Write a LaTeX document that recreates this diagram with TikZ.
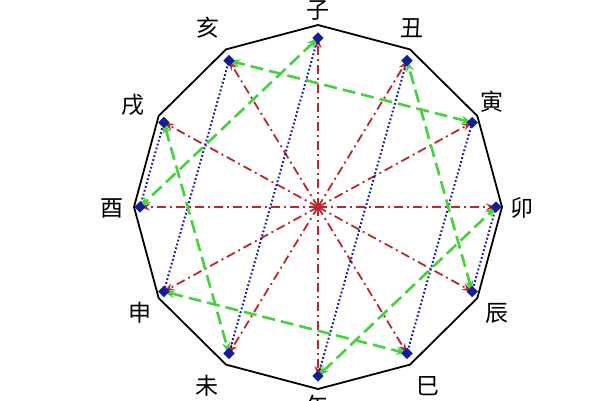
\documentclass[tikz,border=0pt]{standalone}
\usepackage{fontspec}
\newfontfamily\cjk{Noto Sans CJK SC}
\usetikzlibrary{arrows.meta}
\definecolor{redl}{RGB}{185,40,45}
\definecolor{greenl}{RGB}{70,210,60}
\definecolor{bluel}{RGB}{20,30,150}
\tikzset{
  chong/.style={redl,line width=1.8pt,dash pattern=on 9pt off 4pt on 2pt off 4pt,-{Stealth[length=10pt,width=7pt]}},
  po/.style={greenl,line width=2.6pt,dash pattern=on 13pt off 6pt,{Stealth[length=11pt,width=8pt]}-{Stealth[length=11pt,width=8pt]}},
  hai/.style={bluel,line width=2pt,dash pattern=on 1.8pt off 2.2pt},
  pt/.style={fill=bluel,inner sep=0pt,minimum size=8pt,rotate=45,draw=none},
  lab/.style={font=\cjk\fontsize{23}{23}\selectfont}
}
\begin{document}
\begin{tikzpicture}[x=1pt,y=1pt]
\useasboundingbox (0,0) rectangle (600,400);
\coordinate (c) at (318,193);
\foreach \n/\a in {zi/90,chou/60,yin/30,mao/0,chen/-30,si/-60,wu/-90,wei/-120,shen/-150,you/180,xu/150,hai/120}{
  \coordinate (\n) at ({318+178*cos(\a)},{193+169*sin(\a)});
  \coordinate (V\n) at ({318+184*cos(\a)},{193+182*sin(\a)});
}
\draw[black,line width=1.8pt] (Vzi)--(Vchou)--(Vyin)--(Vmao)--(Vchen)--(Vsi)--(Vwu)--(Vwei)--(Vshen)--(Vyou)--(Vxu)--(Vhai)--cycle;
\foreach \n in {zi,chou,yin,mao,chen,si,wu,wei,shen,you,xu,hai}{
  \draw[chong] (c) -- (\n);
}
\draw[hai] (zi)--(wei); \draw[hai] (chou)--(wu); \draw[hai] (yin)--(si);
\draw[hai] (mao)--(chen); \draw[hai] (shen)--(hai); \draw[hai] (you)--(xu);
\draw[po] (zi)--(you); \draw[po] (wu)--(mao); \draw[po] (shen)--(si);
\draw[po] (yin)--(hai); \draw[po] (chen)--(chou); \draw[po] (xu)--(wei);
\foreach \n in {zi,chou,yin,mao,chen,si,wu,wei,shen,you,xu,hai}{
  \node[pt] (p\n) at (\n) {};
}
\node[lab] (tzi) at (318,390) {子};
\node[lab] (tchou) at (412,372) {丑};
\node[lab] (tyin) at (492,298) {寅};
\node[lab] (tmao) at (522,192) {卯};
\node[lab] (tchen) at (497,87) {辰};
\node[lab] (tsi) at (428,14) {巳};
\node[lab] (twu) at (318,-6) {午};
\node[lab] (twei) at (207,14) {未};
\node[lab] (tshen) at (140,87) {申};
\node[lab] (tyou) at (112,192) {酉};
\node[lab] (txu) at (133,295) {戌};
\node[lab] (thai) at (208,372) {亥};
\end{tikzpicture}
\end{document}
